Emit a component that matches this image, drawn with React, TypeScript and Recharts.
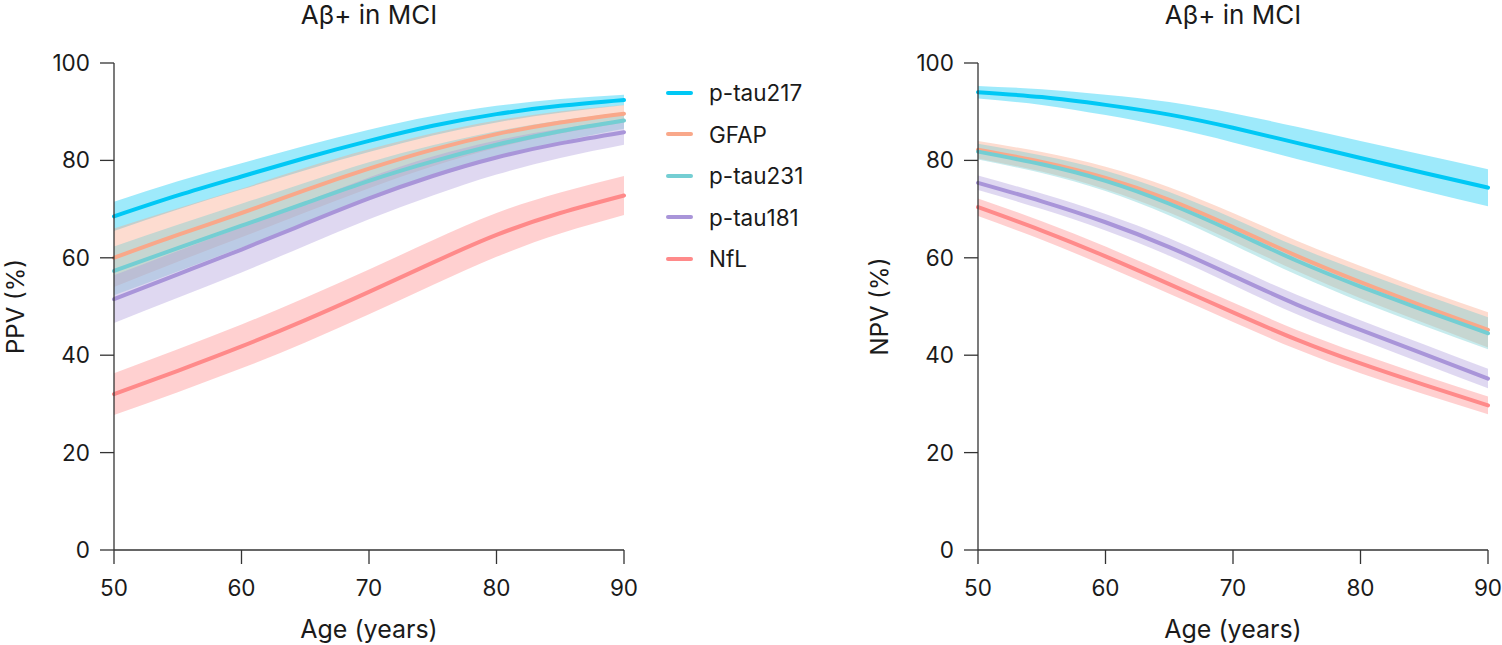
import { ComposedChart, Area, Line, XAxis, YAxis } from "recharts";

// age grid shared by every curve
const AGES = [50, 55, 60, 65, 70, 75, 80, 85, 90];
const X_TICKS = [50, 60, 70, 80, 90];
const Y_TICKS = [0, 20, 40, 60, 80, 100];

// PPV panel: modelled estimate with lower / upper interval
const ppvPtau217 = [68.5, 72.8, 76.7, 80.5, 84.0, 87.1, 89.5, 91.2, 92.4];
const ppvPtau217Lo = [65.5, 69.9, 74.0, 78.0, 81.7, 85.1, 87.8, 89.8, 91.3];
const ppvPtau217Hi = [71.5, 75.7, 79.4, 83.0, 86.3, 89.1, 91.2, 92.6, 93.5];
const ppvGfap = [60.0, 64.7, 69.2, 73.9, 78.3, 82.2, 85.4, 87.8, 89.6];
const ppvGfapLo = [54.0, 59.2, 64.2, 69.3, 74.3, 78.8, 82.6, 85.5, 87.8];
const ppvGfapHi = [66.0, 70.2, 74.2, 78.5, 82.3, 85.6, 88.2, 90.1, 91.4];
const ppvPtau231 = [57.3, 62.0, 66.6, 71.2, 75.8, 79.8, 83.2, 86.0, 88.2];
const ppvPtau231Lo = [52.3, 57.2, 62.1, 67.0, 72.0, 76.5, 80.4, 83.8, 86.5];
const ppvPtau231Hi = [62.3, 66.8, 71.1, 75.4, 79.6, 83.1, 86.0, 88.2, 89.9];
const ppvPtau181 = [51.5, 56.6, 61.7, 67.0, 72.2, 76.8, 80.6, 83.5, 85.8];
const ppvPtau181Lo = [46.6, 51.8, 57.0, 62.5, 67.9, 72.8, 77.1, 80.5, 83.2];
const ppvPtau181Hi = [56.4, 61.4, 66.4, 71.5, 76.5, 80.8, 84.1, 86.5, 88.4];
const ppvNfl = [32.0, 36.8, 41.8, 47.2, 53.0, 59.0, 64.7, 69.2, 72.8];
const ppvNflLo = [27.7, 32.4, 37.3, 42.6, 48.4, 54.4, 60.2, 65.0, 68.8];
const ppvNflHi = [36.3, 41.2, 46.3, 51.8, 57.6, 63.6, 69.2, 73.4, 76.8];

// NPV panel
const npvPtau217 = [94.0, 93.0, 91.4, 89.4, 86.7, 83.6, 80.5, 77.4, 74.4];
const npvPtau217Lo = [92.7, 91.4, 89.3, 86.8, 83.7, 80.3, 77.0, 73.7, 70.6];
const npvPtau217Hi = [95.3, 94.6, 93.5, 92.0, 89.7, 86.9, 84.0, 81.1, 78.2];
const npvGfap = [82.2, 79.7, 76.4, 71.9, 66.3, 60.4, 55.0, 50.0, 45.2];
const npvGfapLo = [80.4, 77.7, 74.1, 69.3, 63.4, 57.3, 51.7, 46.6, 41.6];
const npvGfapHi = [84.0, 81.7, 78.7, 74.5, 69.2, 63.5, 58.3, 53.4, 48.8];
const npvPtau231 = [81.8, 79.2, 75.8, 71.1, 65.4, 59.4, 54.1, 49.2, 44.5];
const npvPtau231Lo = [80.2, 77.4, 73.7, 68.7, 62.7, 56.5, 51.0, 46.0, 41.2];
const npvPtau231Hi = [83.4, 81.0, 77.9, 73.5, 68.1, 62.3, 57.2, 52.4, 47.8];
const npvPtau181 = [75.4, 71.6, 67.3, 62.2, 56.3, 50.4, 45.2, 40.2, 35.2];
const npvPtau181Lo = [73.9, 70.0, 65.6, 60.4, 54.4, 48.4, 43.2, 38.2, 33.2];
const npvPtau181Hi = [76.9, 73.2, 69.0, 64.0, 58.2, 52.4, 47.2, 42.2, 37.2];
const npvNfl = [70.4, 65.6, 60.3, 54.6, 48.8, 43.2, 38.3, 33.9, 29.7];
const npvNflLo = [68.6, 63.7, 58.3, 52.6, 46.8, 41.2, 36.3, 32.0, 27.9];
const npvNflHi = [72.2, 67.5, 62.3, 56.6, 50.8, 45.2, 40.3, 35.8, 31.5];

const SERIES = [
  { key: "ptau217", name: "p-tau217", color: "#00c8f5", band: 0.38 },
  { key: "gfap", name: "GFAP", color: "#f9a88a", band: 0.4 },
  { key: "ptau231", name: "p-tau231", color: "#74ced3", band: 0.4 },
  { key: "ptau181", name: "p-tau181", color: "#a995d9", band: 0.37 },
  { key: "nfl", name: "NfL", color: "#ff8a8a", band: 0.4 },
];

const FONT = "Inter, 'Liberation Sans', sans-serif";
const INK = "#1a1a1a";
const AXIS = "#333";

type Curve = { mean: number[]; lo: number[]; hi: number[] };

function buildRows(curves: Record<string, Curve>) {
  return AGES.map((age, i) => {
    const row: Record<string, any> = { age };
    for (const s of SERIES) {
      const c = curves[s.key];
      row[s.key] = c.mean[i];
      row[s.key + "Band"] = [c.lo[i], c.hi[i]];
    }
    return row;
  });
}

const ppvRows = buildRows({
  ptau217: { mean: ppvPtau217, lo: ppvPtau217Lo, hi: ppvPtau217Hi },
  gfap: { mean: ppvGfap, lo: ppvGfapLo, hi: ppvGfapHi },
  ptau231: { mean: ppvPtau231, lo: ppvPtau231Lo, hi: ppvPtau231Hi },
  ptau181: { mean: ppvPtau181, lo: ppvPtau181Lo, hi: ppvPtau181Hi },
  nfl: { mean: ppvNfl, lo: ppvNflLo, hi: ppvNflHi },
});

const npvRows = buildRows({
  ptau217: { mean: npvPtau217, lo: npvPtau217Lo, hi: npvPtau217Hi },
  gfap: { mean: npvGfap, lo: npvGfapLo, hi: npvGfapHi },
  ptau231: { mean: npvPtau231, lo: npvPtau231Lo, hi: npvPtau231Hi },
  ptau181: { mean: npvPtau181, lo: npvPtau181Lo, hi: npvPtau181Hi },
  nfl: { mean: npvNfl, lo: npvNflLo, hi: npvNflHi },
});

function SeriesLegend({ left, top }: { left: number; top: number }) {
  return (
    <div style={{ position: "absolute", left, top, fontFamily: FONT, fontSize: 22.5, color: INK }}>
      {SERIES.map((s) => (
        <div key={s.key} style={{ display: "flex", alignItems: "center", height: 41.5 }}>
          <span
            style={{
              display: "inline-block",
              width: 27,
              height: 4,
              borderRadius: 2,
              background: s.color,
              marginRight: 16,
            }}
          />
          <span>{s.name}</span>
        </div>
      ))}
    </div>
  );
}

interface PanelProps {
  rows: Record<string, any>[];
  title: string;
  yLabel: string;
  left: number;
  width: number;
}

function Panel({ rows, title, yLabel, left, width }: PanelProps) {
  const plotLeft = 114;
  const plotRight = plotLeft + 510;
  return (
    <div style={{ position: "absolute", left, top: 0, width, height: 645 }}>
      <div
        style={{
          position: "absolute",
          left: plotLeft,
          width: plotRight - plotLeft,
          top: 0,
          textAlign: "center",
          fontFamily: FONT,
          fontSize: 26,
          color: INK,
          lineHeight: "30px",
        }}
      >
        {title}
      </div>
      <ComposedChart
        width={width}
        height={645}
        data={rows}
        margin={{ top: 63, right: width - plotRight, bottom: 0, left: 0 }}
      >
        <XAxis
          dataKey="age"
          type="number"
          domain={[50, 90]}
          ticks={X_TICKS}
          height={95}
          tickSize={14}
          tickMargin={16}
          stroke={AXIS}
          strokeWidth={1.3}
          tick={{ fill: INK, fontSize: 22.5, fontFamily: FONT }}
          label={{
            content: ({ viewBox }: any) => (
              <text
                x={viewBox.x + viewBox.width / 2}
                y={viewBox.y + 88}
                textAnchor="middle"
                fill={INK}
                fontSize={25}
                fontFamily={FONT}
              >
                Age (years)
              </text>
            ),
          }}
        />
        <YAxis
          type="number"
          domain={[0, 100]}
          ticks={Y_TICKS}
          width={plotLeft}
          tickSize={14}
          tickMargin={10}
          stroke={AXIS}
          strokeWidth={1.3}
          tick={{ fill: INK, fontSize: 22.5, fontFamily: FONT }}
          label={{
            content: ({ viewBox }: any) => {
              const cx = viewBox.x + 15;
              const cy = viewBox.y + viewBox.height / 2;
              return (
                <text
                  x={cx}
                  y={cy}
                  transform={`rotate(-90 ${cx} ${cy})`}
                  textAnchor="middle"
                  dominantBaseline="central"
                  fill={INK}
                  fontSize={24}
                  fontFamily={FONT}
                >
                  {yLabel}
                </text>
              );
            },
          }}
        />
        {SERIES.map((s) => (
          <Area
            key={s.key + "Band"}
            type="natural"
            dataKey={s.key + "Band"}
            stroke="none"
            fill={s.color}
            fillOpacity={s.band}
            dot={false}
            activeDot={false}
            legendType="none"
            isAnimationActive={false}
          />
        ))}
        {SERIES.map((s) => (
          <Line
            key={s.key}
            type="natural"
            dataKey={s.key}
            name={s.name}
            stroke={s.color}
            strokeWidth={4}
            strokeLinecap="round"
            dot={false}
            activeDot={false}
            isAnimationActive={false}
          />
        ))}
      </ComposedChart>
    </div>
  );
}

export default function App() {
  return (
    <div
      style={{
        position: "absolute",
        left: 0,
        top: 0,
        width: 1502,
        height: 645,
        overflow: "hidden",
        background: "#fff",
      }}
    >
      <Panel rows={ppvRows} title="Aβ+ in MCI" yLabel="PPV (%)" left={0} width={700} />
      <SeriesLegend left={666} top={72} />
      <Panel rows={npvRows} title="Aβ+ in MCI" yLabel="NPV (%)" left={864} width={638} />
    </div>
  );
}
